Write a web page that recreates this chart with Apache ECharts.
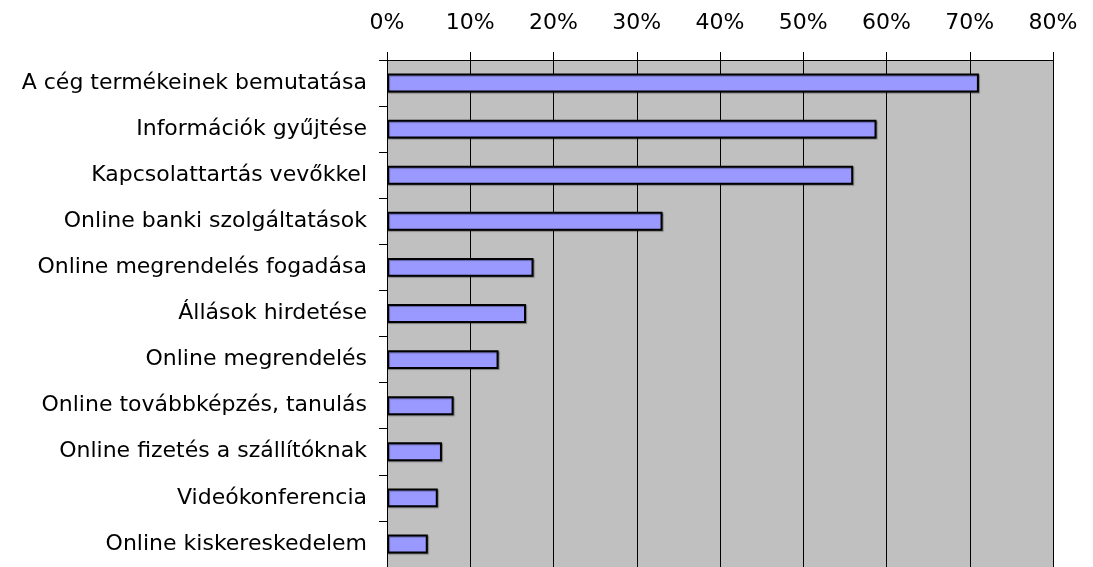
<!DOCTYPE html>
<html>
<head>
<meta charset="utf-8">
<script src="https://cdn.jsdelivr.net/npm/echarts@6/dist/echarts.min.js"></script>
<style>
  html, body { margin: 0; padding: 0; background: #fff; }
  #chart { width: 1093px; height: 567px; }
</style>
</head>
<body>
<div id="chart"></div>
<script>
// categories top to bottom
const categories = [
    'A cég termékeinek bemutatása',
    'Információk gyűjtése',
    'Kapcsolattartás vevőkkel',
    'Online banki szolgáltatások',
    'Online megrendelés fogadása',
    'Állások hirdetése',
    'Online megrendelés',
    'Online továbbképzés, tanulás',
    'Online fizetés a szállítóknak',
    'Videókonferencia',
    'Online kiskereskedelem'
];
// share of companies, percent
const shares = [71.1, 58.8, 56.0, 33.1, 17.6, 16.7, 13.4, 8.0, 6.6, 6.1, 4.9];

const chart = echarts.init(document.getElementById('chart'));
const font = 'DejaVu Sans, Arial, sans-serif';

chart.setOption({
    animation: false,
    grid: {
        left: 387, right: 40, top: 60, bottom: 0,
        show: true, backgroundColor: '#C0C0C0', borderWidth: 0
    },
    xAxis: {
        type: 'value',
        position: 'top',
        min: 0, max: 80, interval: 10,
        axisLine: { show: true, lineStyle: { color: '#000', width: 1 } },
        axisTick: { show: true, length: 8, lineStyle: { color: '#000' } },
        splitLine: { show: true, lineStyle: { color: '#000', width: 1 } },
        axisLabel: {
            formatter: '{value}%', margin: 26,
            color: '#000', fontSize: 22, fontFamily: font
        }
    },
    yAxis: {
        type: 'category',
        data: categories,
        inverse: true,
        axisLine: { show: true, lineStyle: { color: '#000', width: 1 } },
        axisTick: { show: true, length: 8, lineStyle: { color: '#000' } },
        axisLabel: { margin: 20, color: '#000', fontSize: 22, fontFamily: font }
    },
    series: [{
        type: 'bar',
        data: shares,
        barWidth: '41%',
        itemStyle: {
            color: '#9999FF',
            borderColor: '#000',
            borderWidth: 2,
            shadowColor: 'rgba(0,0,0,0.35)',
            shadowOffsetX: 1,
            shadowOffsetY: 1,
            shadowBlur: 1
        }
    }]
});
</script>
</body>
</html>
